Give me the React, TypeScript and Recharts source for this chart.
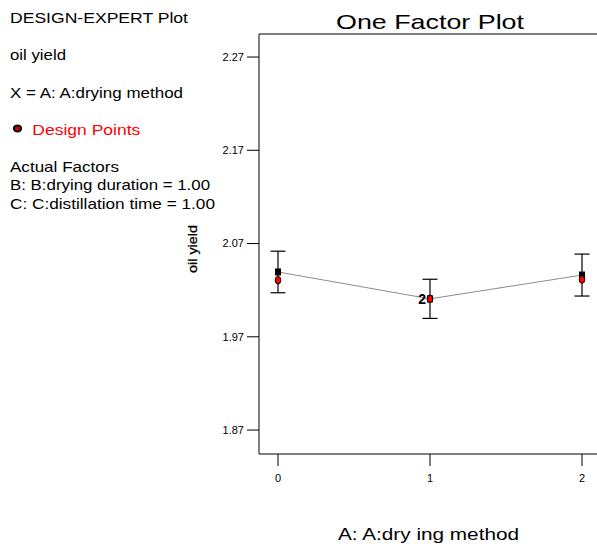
import React from 'react';
import {
  ComposedChart,
  Line,
  Scatter,
  ErrorBar,
  XAxis,
  YAxis,
  ReferenceLine,
} from 'recharts';

// ---- data ----
const levels = [0, 1, 2];
const meanValues = [2.0395, 2.0107, 2.0362];
const errorHalfWidths = [0.0223, 0.021, 0.0225];
const designPointValues = [2.0307, 2.0107, 2.0314];
const designPointCounts = [1, 2, 1];
const yTicks = [1.87, 1.97, 2.07, 2.17, 2.27];
const xTicks = [0, 1, 2];
const yDomain = [1.8443, 2.2947];
const xDomain = [-0.125, 2.125];

const infoLines = [
  'DESIGN-EXPERT Plot',
  'oil yield',
  'X = A: A:drying method',
];
const legendLabel = 'Design Points';
const factorLines = [
  'Actual Factors',
  'B: B:drying duration = 1.00',
  'C: C:distillation time = 1.00',
];

const rows = levels.map((x, i) => ({
  x,
  mean: meanValues[i],
  err: errorHalfWidths[i],
  dp: designPointValues[i],
  count: designPointCounts[i],
}));

const FONT = '"Liberation Sans", Arial, Helvetica, sans-serif';

const MeanSquare = (props: any) => {
  const { cx, cy } = props;
  if (cx == null || cy == null) return null;
  return <rect x={cx - 3} y={cy - 3.5} width={6} height={7} fill="#000" />;
};

const DesignPoint = (props: any) => {
  const { cx, cy, payload } = props;
  if (cx == null || cy == null) return null;
  return (
    <g>
      <ellipse cx={cx} cy={cy} rx={2.8} ry={3.8} fill="#ff0000" stroke="#000" strokeWidth={1} />
      {payload && payload.count > 1 ? (
        <text
          x={cx - 4}
          y={cy + 5}
          textAnchor="end"
          fontSize={14}
          fontWeight="bold"
          fontFamily={FONT}
          fill="#000"
        >
          {payload.count}
        </text>
      ) : null}
    </g>
  );
};

const XTick = (props: any) => {
  const { x, y, payload } = props;
  return (
    <text x={x} y={y + 8} textAnchor="middle" fontSize={11} fontFamily={FONT} fill="#000">
      {payload.value}
    </text>
  );
};

const XLabel = (props: any) => {
  const vb = props.viewBox || {};
  const cx = (vb.x ?? 259) + (vb.width ?? 342) / 2 - 1.5;
  return (
    <text
      x={cx}
      y={540}
      textAnchor="middle"
      fontSize={16}
      fontFamily={FONT}
      fill="#000"
      textLength={181}
      lengthAdjust="spacingAndGlyphs"
    >
      A: A:dry ing method
    </text>
  );
};

const YLabel = () => (
  <text
    x={196.5}
    y={249}
    transform="rotate(-90 196.5 249)"
    textAnchor="middle"
    fontSize={13}
    fontFamily={FONT}
    fill="#000"
    stroke="#000"
    strokeWidth={0.25}
    textLength={48}
    lengthAdjust="spacingAndGlyphs"
  >
    oil yield
  </text>
);

export default function App() {
  const infoY = [23, 60, 97.5];
  const infoW = [178, 56, 173];
  const factY = [172, 190, 208.5];
  const factW = [109, 200, 205];
  return (
    <div
      style={{
        position: 'absolute',
        left: 0,
        top: 0,
        width: 597,
        height: 546,
        overflow: 'hidden',
        background: '#fff',
        fontFamily: FONT,
      }}
    >
      <ComposedChart
        width={610}
        height={546}
        data={rows}
        margin={{ top: 34, right: 9, bottom: 0, left: 0 }}
        style={{ position: 'absolute', left: 0, top: 0 }}
      >
        <XAxis
          dataKey="x"
          type="number"
          domain={xDomain}
          ticks={xTicks}
          allowDataOverflow
          height={92}
          tickSize={12}
          tickMargin={8}
          stroke="#000"
          tick={<XTick />}
          label={<XLabel />}
        />
        <YAxis
          type="number"
          domain={yDomain}
          ticks={yTicks}
          allowDataOverflow
          width={259}
          tickSize={12}
          tickMargin={3}
          stroke="#000"
          tick={{ fontSize: 11, fill: '#000', stroke: 'none', fontFamily: FONT }}
          tickFormatter={(v: number) => v.toFixed(2)}
          label={<YLabel />}
        />
        <ReferenceLine y={yDomain[1]} stroke="#000" strokeWidth={1} />
        <Line
          dataKey="mean"
          stroke="#8c8c8c"
          strokeWidth={1}
          dot={false}
          activeDot={false}
          isAnimationActive={false}
        />
        <Scatter dataKey="mean" shape={<MeanSquare />} isAnimationActive={false}>
          <ErrorBar dataKey="err" direction="y" width={7.5} stroke="#000" strokeWidth={1.2} />
        </Scatter>
        <Scatter dataKey="dp" shape={<DesignPoint />} isAnimationActive={false} />
      </ComposedChart>

      <svg
        width={597}
        height={546}
        style={{ position: 'absolute', left: 0, top: 0, pointerEvents: 'none' }}
      >
        <text
          x={430}
          y={29.3}
          textAnchor="middle"
          fontSize={21}
          fontFamily={FONT}
          fill="#000"
          textLength={188}
          lengthAdjust="spacingAndGlyphs"
        >
          One Factor Plot
        </text>
        {infoLines.map((t, i) => (
          <text
            key={t}
            x={10}
            y={infoY[i]}
            fontSize={15}
            fontFamily={FONT}
            fill="#000"
            textLength={infoW[i]}
            lengthAdjust="spacingAndGlyphs"
          >
            {t}
          </text>
        ))}
        <ellipse cx={17.5} cy={128.5} rx={3.6} ry={3} fill="#d00000" stroke="#000" strokeWidth={2} />
        <text
          x={32.3}
          y={135}
          fontSize={15}
          fontFamily={FONT}
          fill="#ff0000"
          textLength={108}
          lengthAdjust="spacingAndGlyphs"
        >
          {legendLabel}
        </text>
        {factorLines.map((t, i) => (
          <text
            key={t}
            x={10}
            y={factY[i]}
            fontSize={15}
            fontFamily={FONT}
            fill="#000"
            textLength={factW[i]}
            lengthAdjust="spacingAndGlyphs"
          >
            {t}
          </text>
        ))}
      </svg>
    </div>
  );
}
